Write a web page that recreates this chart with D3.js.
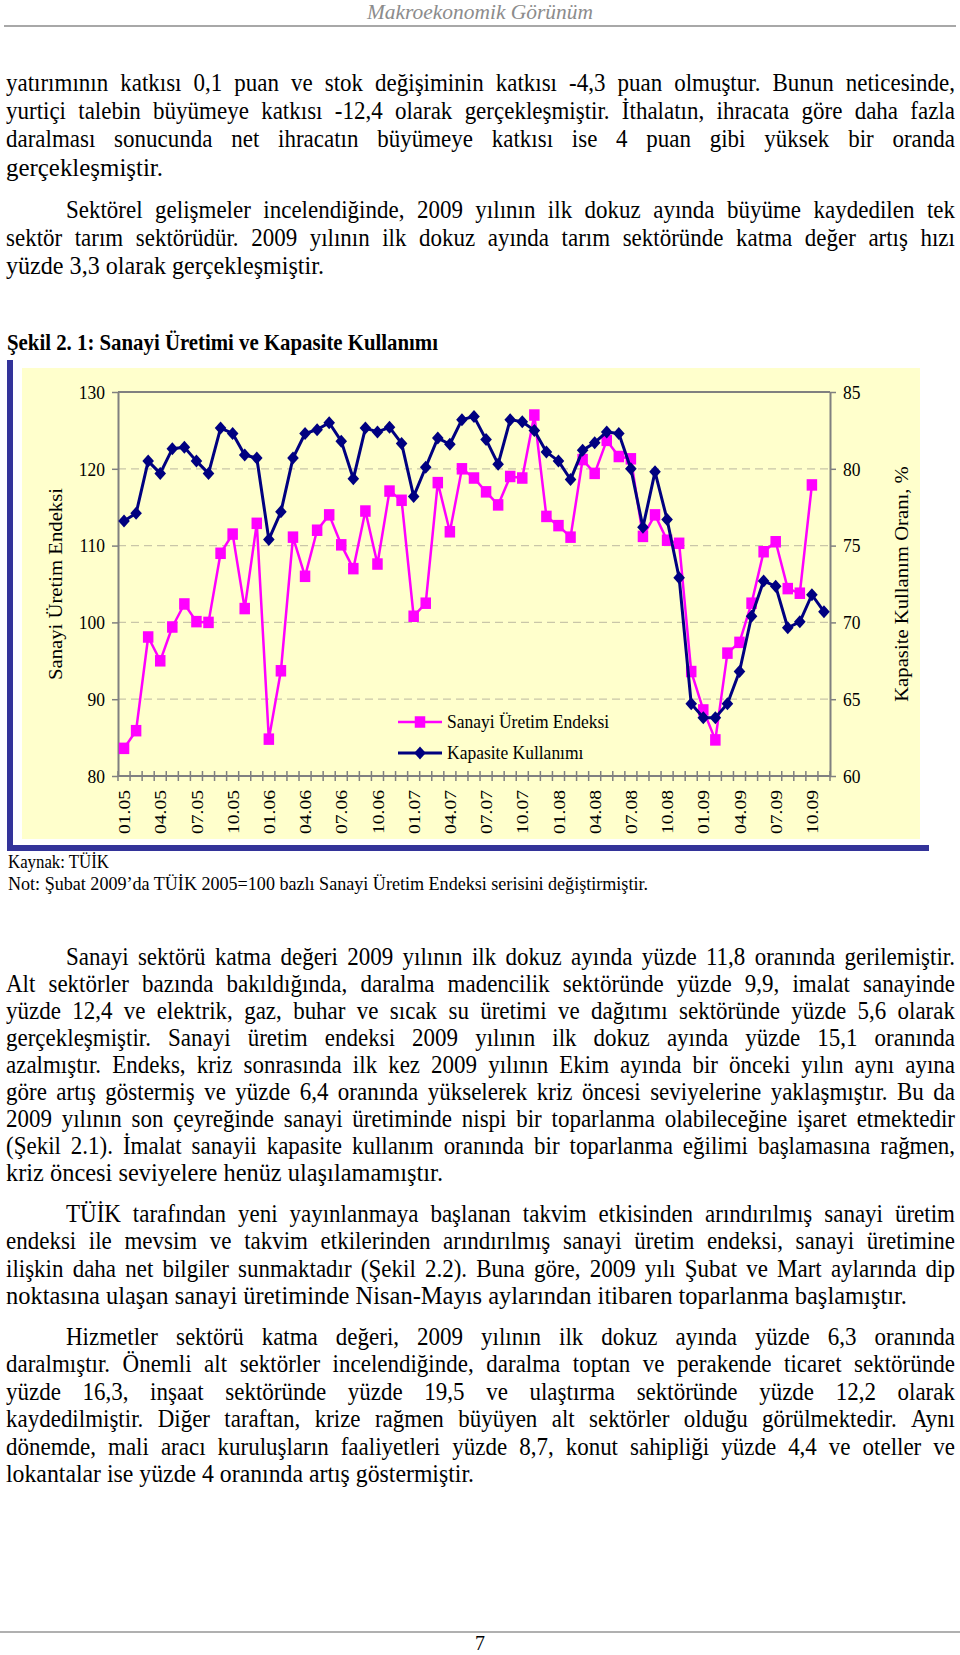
<!DOCTYPE html>
<html><head><meta charset="utf-8">
<script src="https://cdn.jsdelivr.net/npm/d3@7"></script>
<style>html,body{margin:0;padding:0;background:#fff;} svg{display:block;}</style>
</head><body>
<svg id="page" width="960" height="1655"></svg>
<script>
// ---------------- DATA ----------------
const months = ["01.05","02.05","03.05","04.05","05.05","06.05","07.05","08.05","09.05","10.05","11.05","12.05",
  "01.06","02.06","03.06","04.06","05.06","06.06","07.06","08.06","09.06","10.06","11.06","12.06",
  "01.07","02.07","03.07","04.07","05.07","06.07","07.07","08.07","09.07","10.07","11.07","12.07",
  "01.08","02.08","03.08","04.08","05.08","06.08","07.08","08.08","09.08","10.08","11.08","12.08",
  "01.09","02.09","03.09","04.09","05.09","06.09","07.09","08.09","09.09","10.09","11.09"];
const xLabels = ["01.05","04.05","07.05","10.05","01.06","04.06","07.06","10.06","01.07","04.07","07.07","10.07",
  "01.08","04.08","07.08","10.08","01.09","04.09","07.09","10.09"];
const sanayiUretim = [83.6,85.9,98.1,95.0,99.4,102.4,100.1,100.0,109.0,111.5,101.8,112.9,
  84.8,93.7,111.1,106.0,112.0,114.0,110.1,107.0,114.5,107.6,117.1,115.9,
  100.8,102.5,118.2,111.8,120.0,118.8,117.0,115.3,119.0,118.8,127.0,113.8,
  112.6,111.1,121.2,119.4,123.7,121.6,121.3,111.2,114.0,110.7,110.3,93.6,
  88.6,84.7,96.0,97.4,102.5,109.2,110.5,104.4,103.8,117.9];
const kapasite = [76.6,77.1,80.5,79.7,81.3,81.4,80.5,79.7,82.65,82.3,80.9,80.7,
  75.4,77.2,80.7,82.3,82.55,83.0,81.8,79.35,82.65,82.4,82.7,81.65,
  78.2,80.1,82.0,81.6,83.2,83.4,81.9,80.3,83.2,83.06,82.5,81.1,
  80.5,79.3,81.2,81.7,82.4,82.3,80.0,76.2,79.8,76.7,72.9,64.7,
  63.8,63.8,64.7,66.8,70.4,72.7,72.35,69.65,70.04,71.8,70.7];
const leftTicks = [80,90,100,110,120,130];
const rightTicks = [60,65,70,75,80,85];
const seriesNames = ["Sanayi Üretim Endeksi","Kapasite Kullanımı"];

// ---------------- TEXT ----------------
const para1 = ["yatırımının katkısı 0,1 puan ve stok değişiminin katkısı -4,3 puan olmuştur. Bunun neticesinde,",
  "yurtiçi talebin büyümeye katkısı -12,4 olarak gerçekleşmiştir. İthalatın, ihracata göre daha fazla",
  "daralması sonucunda net ihracatın büyümeye katkısı ise 4 puan gibi yüksek bir oranda",
  "gerçekleşmiştir."];
const para2 = ["Sektörel gelişmeler incelendiğinde, 2009 yılının ilk dokuz ayında büyüme kaydedilen tek",
  "sektör tarım sektörüdür. 2009 yılının ilk dokuz ayında tarım sektöründe katma değer artış hızı",
  "yüzde 3,3 olarak gerçekleşmiştir."];
const para3 = ["Sanayi sektörü katma değeri 2009 yılının ilk dokuz ayında yüzde 11,8 oranında gerilemiştir.",
  "Alt sektörler bazında bakıldığında, daralma madencilik sektöründe yüzde 9,9, imalat sanayinde",
  "yüzde 12,4 ve elektrik, gaz, buhar ve sıcak su üretimi ve dağıtımı sektöründe yüzde 5,6 olarak",
  "gerçekleşmiştir. Sanayi üretim endeksi 2009 yılının ilk dokuz ayında yüzde 15,1 oranında",
  "azalmıştır. Endeks, kriz sonrasında ilk kez 2009 yılının Ekim ayında bir önceki yılın aynı ayına",
  "göre artış göstermiş ve yüzde 6,4 oranında yükselerek kriz öncesi seviyelerine yaklaşmıştır. Bu da",
  "2009 yılının son çeyreğinde sanayi üretiminde nispi bir toparlanma olabileceğine işaret etmektedir",
  "(Şekil 2.1). İmalat sanayii kapasite kullanım oranında bir toparlanma eğilimi başlamasına rağmen,",
  "kriz öncesi seviyelere henüz ulaşılamamıştır."];
const para4 = ["TÜİK tarafından yeni yayınlanmaya başlanan takvim etkisinden arındırılmış sanayi üretim",
  "endeksi ile mevsim ve takvim etkilerinden arındırılmış sanayi üretim endeksi, sanayi üretimine",
  "ilişkin daha net bilgiler sunmaktadır (Şekil 2.2). Buna göre, 2009 yılı Şubat ve Mart aylarında dip",
  "noktasına ulaşan sanayi üretiminde Nisan-Mayıs aylarından itibaren toparlanma başlamıştır."];
const para5 = ["Hizmetler sektörü katma değeri, 2009 yılının ilk dokuz ayında yüzde 6,3 oranında",
  "daralmıştır. Önemli alt sektörler incelendiğinde, daralma toptan ve perakende ticaret sektöründe",
  "yüzde 16,3, inşaat sektöründe yüzde 19,5 ve ulaştırma sektöründe yüzde 12,2 olarak",
  "kaydedilmiştir. Diğer taraftan, krize rağmen büyüyen alt sektörler olduğu görülmektedir. Aynı",
  "dönemde, mali aracı kuruluşların faaliyetleri yüzde 8,7, konut sahipliği yüzde 4,4 ve oteller ve",
  "lokantalar ise yüzde 4 oranında artış göstermiştir."];

const SERIF = "'Liberation Serif','Times New Roman',serif";
const SY = 1.12;
const svg = d3.select('#page');
svg.append('rect').attr('width',960).attr('height',1655).attr('fill','#fff');

function measure(str, fs, fw, fi) {
  const t = svg.append('text').attr('font-family',SERIF).attr('font-size',fs)
    .attr('font-weight',fw||'normal').attr('font-style',fi||'normal').text(str);
  const w = t.node().getComputedTextLength();
  t.remove();
  return w;
}
function textLine(str, x0, x1, y, o) {
  o = o || {};
  const fs = o.fs || 23;
  const t = svg.append('text')
    .attr('transform', `translate(0,${y}) scale(1,${o.sy||SY})`)
    .attr('font-family', SERIF).attr('font-size', fs)
    .attr('font-weight', o.fw||'normal').attr('font-style', o.fi||'normal')
    .attr('fill', o.fill||'#000');
  if (o.justify) {
    const words = str.split(' ');
    const widths = words.map(w => measure(w, fs, o.fw, o.fi));
    const gap = (x1 - x0 - d3.sum(widths)) / (words.length - 1);
    if (gap >= fs*0.14) {
      let cx = x0;
      words.forEach((w,i) => { t.append('tspan').attr('x', cx).attr('y',0).text(w); cx += widths[i] + gap; });
    } else {
      t.attr('x', x0).attr('y',0).text(str).attr('textLength', x1-x0).attr('lengthAdjust','spacingAndGlyphs');
    }
  } else {
    t.attr('x', x0).attr('y',0).text(str);
    if (x1) t.attr('textLength', x1-x0).attr('lengthAdjust','spacingAndGlyphs');
  }
  return t;
}
function paragraph(lines, y0, step, lastEnd) {
  lines.forEach((s,i) => {
    const last = i === lines.length - 1;
    const x0 = (i === 0 && s !== para1[0]) ? 66 : 6;
    if (!last || lastEnd === null) textLine(s, x0, 955, y0 + i*step, {justify:true});
    else textLine(s, x0, lastEnd, y0 + i*step, {});
  });
}

// Header
textLine("Makroekonomik Görünüm", 367, 593, 19, {fs:20, fi:'italic', fill:'#8c8c8c', sy:1.05});
svg.append('line').attr('x1',4).attr('x2',956).attr('y1',26).attr('y2',26).attr('stroke','#a8a8a8').attr('stroke-width',2);

paragraph(para1, 91, 28.2, 163);
paragraph(para2, 218, 28.2, 324);
textLine("Şekil 2. 1: Sanayi Üretimi ve Kapasite Kullanımı", 7, 438, 350, {fs:21, fw:'bold'});

// ---------------- CHART ----------------
const X0 = 118, X1 = 830, Y0 = 392, Y1 = 776;
svg.append('rect').attr('x',22).attr('y',368).attr('width',898).attr('height',471).attr('fill','#FFFFCC');
svg.append('rect').attr('x',7).attr('y',360).attr('width',6).attr('height',491).attr('fill','#333399');
svg.append('rect').attr('x',7).attr('y',845).attr('width',922).attr('height',6).attr('fill','#333399');

const x = d3.scaleBand().domain(months).range([X0, X1]);
const cx = m => x(m) + x.bandwidth()/2;
const yL = d3.scaleLinear().domain([80,130]).range([Y1, Y0]);
const yR = d3.scaleLinear().domain([60,85]).range([Y1, Y0]);

// gridlines
svg.append('g').selectAll('line').data(leftTicks.filter(v => v > 80 && v < 130)).join('line')
  .attr('x1',X0).attr('x2',X1).attr('y1',d=>yL(d)).attr('y2',d=>yL(d))
  .attr('stroke','#c9c6a8').attr('stroke-width',1.2).attr('stroke-dasharray','8,5');
// top border
svg.append('line').attr('x1',X0).attr('x2',X1).attr('y1',yL(130)).attr('y2',yL(130)).attr('stroke','#808080').attr('stroke-width',2);

function styleAxis(g) {
  g.select('.domain').attr('stroke','#808080').attr('stroke-width',2);
  g.selectAll('.tick line').attr('stroke','#808080').attr('stroke-width',1.5);
  g.selectAll('.tick text').attr('font-family',SERIF).attr('font-size',17.5).attr('fill','#000')
    .attr('transform',`scale(1,${SY})`);
}
const gL = svg.append('g').attr('transform',`translate(${X0},0)`)
  .call(d3.axisLeft(yL).tickValues(leftTicks).tickSize(6).tickSizeOuter(0).tickPadding(7));
styleAxis(gL);
const gR = svg.append('g').attr('transform',`translate(${X1},0)`)
  .call(d3.axisRight(yR).tickValues(rightTicks).tickSize(6).tickSizeOuter(0).tickPadding(7));
styleAxis(gR);

// bottom axis
svg.append('line').attr('x1',X0).attr('x2',X1).attr('y1',Y1).attr('y2',Y1).attr('stroke','#808080').attr('stroke-width',2);
const bounds = months.map(m => x(m)).concat([X1]);
svg.append('g').selectAll('line').data(bounds).join('line')
  .attr('x1',d=>d).attr('x2',d=>d).attr('y1',Y1-5).attr('y2',Y1+5)
  .attr('stroke','#808080').attr('stroke-width',1.5);
svg.append('g').selectAll('text').data(xLabels).join('text')
  .attr('transform', d => `translate(${cx(d)},790) scale(1,${SY}) rotate(-90)`)
  .attr('text-anchor','end').attr('dy','0.35em')
  .attr('font-family',SERIF).attr('font-size',17.5).attr('fill','#000').text(d=>d);

// axis titles
svg.append('text').attr('transform',`translate(56,584) scale(1,${SY}) rotate(-90)`)
  .attr('text-anchor','middle').attr('dy','0.35em').attr('font-family',SERIF).attr('font-size',18.5)
  .text("Sanayi Üretim Endeksi");
svg.append('text').attr('transform',`translate(902,584) scale(1,${SY}) rotate(-90)`)
  .attr('text-anchor','middle').attr('dy','0.35em').attr('font-family',SERIF).attr('font-size',18.5)
  .text("Kapasite Kullanım Oranı, %");

// series
const PINK = '#FF00FF', NAVY = '#000080';
const pinkData = sanayiUretim.map((v,i) => ({m: months[i], v}));
const navyData = kapasite.map((v,i) => ({m: months[i], v}));
svg.append('path').datum(pinkData)
  .attr('d', d3.line().x(d=>cx(d.m)).y(d=>yL(d.v)))
  .attr('fill','none').attr('stroke',PINK).attr('stroke-width',2.5).attr('stroke-linejoin','round');
const SQW = 10.5, SQH = 11.5;
svg.append('g').selectAll('rect').data(pinkData).join('rect')
  .attr('x',d=>cx(d.m)-SQW/2).attr('y',d=>yL(d.v)-SQH/2).attr('width',SQW).attr('height',SQH).attr('fill',PINK);

svg.append('path').datum(navyData)
  .attr('d', d3.line().x(d=>cx(d.m)).y(d=>yR(d.v)))
  .attr('fill','none').attr('stroke',NAVY).attr('stroke-width',3).attr('stroke-linejoin','round');
const diamond = (px,py) => `M${px},${py-6.5}L${px+5.8},${py}L${px},${py+6.5}L${px-5.8},${py}Z`;
svg.append('g').selectAll('path').data(navyData).join('path')
  .attr('d', d => diamond(cx(d.m), yR(d.v))).attr('fill',NAVY);

// legend
const legY = [722, 753];
const lg = svg.append('g');
legY.forEach((ly,i) => {
  const col = i === 0 ? PINK : NAVY;
  lg.append('line').attr('x1',398).attr('x2',442).attr('y1',ly).attr('y2',ly).attr('stroke',col).attr('stroke-width',i===0?2.5:3);
  if (i === 0) lg.append('rect').attr('x',420-SQW/2).attr('y',ly-SQH/2).attr('width',SQW).attr('height',SQH).attr('fill',col);
  else lg.append('path').attr('d',diamond(420,ly)).attr('fill',col);
  lg.append('text').attr('transform',`translate(447,${ly+6}) scale(1,${SY})`)
    .attr('font-family',SERIF).attr('font-size',17.5).text(seriesNames[i]);
});

// source notes
textLine("Kaynak: TÜİK", 8, 109, 868, {fs:17});
textLine("Not: Şubat 2009’da TÜİK 2005=100 bazlı Sanayi Üretim Endeksi serisini değiştirmiştir.", 8, 648, 890, {fs:17});

// ---------------- LOWER TEXT ----------------
paragraph(para3, 965, 27.04, 443);
paragraph(para4, 1222, 27.4, 907);
paragraph(para5, 1345, 27.4, 474);

// footer
svg.append('line').attr('x1',0).attr('x2',960).attr('y1',1632).attr('y2',1632).attr('stroke','#b0b0b0').attr('stroke-width',2);
svg.append('text').attr('transform',`translate(480,1650)`).attr('text-anchor','middle')
  .attr('font-family',SERIF).attr('font-size',20).text("7");
</script>
</body></html>
